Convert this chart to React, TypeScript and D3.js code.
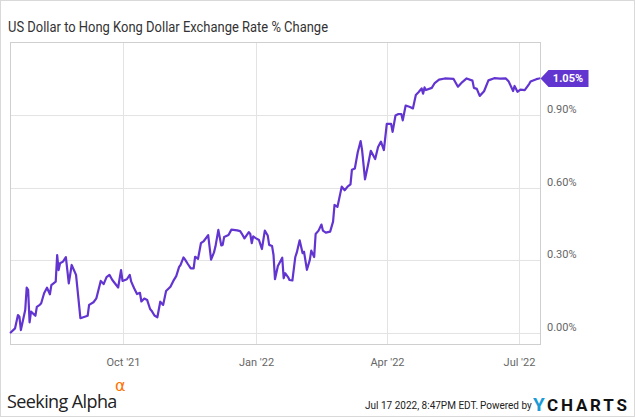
import React from "react";
import * as d3 from "d3";

const title = "US Dollar to Hong Kong Dollar Exchange Rate % Change";

const dates: string[] = [
  "2021-07-16","2021-07-19","2021-07-21","2021-07-22","2021-07-23","2021-07-26","2021-07-27","2021-07-28","2021-07-29","2021-07-30",
  "2021-08-02","2021-08-03","2021-08-05","2021-08-06","2021-08-08","2021-08-10","2021-08-12","2021-08-13","2021-08-16","2021-08-17",
  "2021-08-18","2021-08-19","2021-08-21","2021-08-23","2021-08-25","2021-08-27","2021-08-30","2021-09-02","2021-09-07","2021-09-08",
  "2021-09-11","2021-09-13","2021-09-16","2021-09-18","2021-09-20","2021-09-22","2021-09-24","2021-09-28","2021-09-30","2021-10-01",
  "2021-10-04","2021-10-06","2021-10-07","2021-10-09","2021-10-11","2021-10-13","2021-10-14","2021-10-16","2021-10-18","2021-10-20",
  "2021-10-21","2021-10-23","2021-10-25","2021-10-27","2021-10-29","2021-10-31","2021-11-03","2021-11-05","2021-11-07","2021-11-09",
  "2021-11-10","2021-11-12","2021-11-13","2021-11-15","2021-11-17","2021-11-19","2021-11-20","2021-11-22","2021-11-24","2021-11-26",
  "2021-11-29","2021-12-01","2021-12-03","2021-12-04","2021-12-06","2021-12-08","2021-12-09","2021-12-10","2021-12-13","2021-12-15",
  "2021-12-19","2021-12-21","2021-12-22","2021-12-24","2021-12-27","2021-12-28","2021-12-29","2021-12-30","2022-01-01","2022-01-03",
  "2022-01-05","2022-01-07","2022-01-09","2022-01-10","2022-01-12","2022-01-13","2022-01-14","2022-01-16","2022-01-19","2022-01-20",
  "2022-01-21","2022-01-23","2022-01-24","2022-01-26","2022-01-28","2022-01-29","2022-01-31","2022-02-02","2022-02-03","2022-02-05",
  "2022-02-07","2022-02-08","2022-02-10","2022-02-11","2022-02-13","2022-02-15","2022-02-16","2022-02-18","2022-02-21","2022-02-23",
  "2022-02-24","2022-02-26","2022-02-28","2022-03-01","2022-03-03","2022-03-05","2022-03-07","2022-03-08","2022-03-10","2022-03-12",
  "2022-03-14","2022-03-15","2022-03-17","2022-03-19","2022-03-21","2022-03-24","2022-03-26","2022-03-28","2022-03-30","2022-04-01",
  "2022-04-04","2022-04-05","2022-04-07","2022-04-09","2022-04-11","2022-04-12","2022-04-14","2022-04-17","2022-04-19","2022-04-21",
  "2022-04-23","2022-04-25","2022-04-26","2022-04-27","2022-04-28","2022-05-02","2022-05-04","2022-05-07","2022-05-11","2022-05-17",
  "2022-05-20","2022-05-23","2022-05-26","2022-05-30","2022-05-31","2022-06-02","2022-06-04","2022-06-07","2022-06-10","2022-06-14",
  "2022-06-18","2022-06-22","2022-06-24","2022-06-27","2022-06-28","2022-06-30","2022-07-02","2022-07-05","2022-07-08","2022-07-09",
  "2022-07-13","2022-07-15",
];

const changePct: number[] = [
  0.001,0.018,0.073,0.066,0.011,0.094,0.186,0.177,0.043,0.087,
  0.070,0.107,0.115,0.122,0.163,0.186,0.159,0.197,0.211,0.321,
  0.259,0.287,0.294,0.312,0.204,0.280,0.239,0.060,0.070,0.115,
  0.126,0.142,0.214,0.201,0.230,0.239,0.218,0.187,0.259,0.214,
  0.221,0.239,0.211,0.184,0.160,0.165,0.129,0.141,0.135,0.098,
  0.091,0.071,0.064,0.128,0.115,0.172,0.190,0.214,0.234,0.272,
  0.280,0.311,0.303,0.284,0.266,0.266,0.314,0.305,0.370,0.379,
  0.403,0.302,0.332,0.356,0.425,0.361,0.363,0.396,0.404,0.426,
  0.423,0.420,0.411,0.390,0.416,0.408,0.370,0.398,0.390,0.383,
  0.346,0.422,0.402,0.363,0.358,0.321,0.221,0.276,0.310,0.225,
  0.246,0.230,0.218,0.216,0.313,0.331,0.382,0.329,0.335,0.260,
  0.301,0.339,0.313,0.408,0.422,0.447,0.422,0.414,0.418,0.459,
  0.528,0.520,0.576,0.604,0.589,0.604,0.613,0.674,0.679,0.746,
  0.792,0.755,0.634,0.691,0.752,0.718,0.768,0.790,0.755,0.863,
  0.863,0.830,0.898,0.904,0.904,0.878,0.939,0.933,0.927,0.983,
  0.995,1.010,0.988,1.014,1.003,1.012,1.032,1.046,1.051,1.049,
  1.017,1.036,1.051,1.042,1.012,1.008,0.979,0.998,1.043,1.052,
  1.050,1.051,1.038,0.999,1.020,0.996,1.005,1.003,1.028,1.038,
  1.048,1.051,
];

const yTicks: number[] = [0, 0.3, 0.6, 0.9];
const xTicks: string[] = ["2021-10-01", "2022-01-01", "2022-04-01", "2022-07-01"];
const xDomain: string[] = ["2021-07-16", "2022-07-16"];
const yDomain: number[] = [-0.0467, 1.2017];
const lastLabel = "1.05%";
const timestamp = "Jul 17 2022, 8:47PM EDT.";

const W = 635;
const H = 417;
const PLOT = { left: 10.5, right: 540.5, top: 42.5, bottom: 344.5 };
const PURPLE = "#6234d0";
const FONT = "Roboto, 'Open Sans', sans-serif";

export default function App() {
  const parse = d3.utcParse("%Y-%m-%d");
  const x = d3
    .scaleUtc()
    .domain(xDomain.map((d) => parse(d) as Date))
    .range([10.7, 540.7]);
  const y = d3.scaleLinear().domain(yDomain).range([344, 42]);
  const fmtX = d3.utcFormat("%b '%y");

  const data = dates.map((d, i) => ({ date: parse(d) as Date, v: changePct[i] }));
  const line = d3
    .line<{ date: Date; v: number }>()
    .x((d) => x(d.date))
    .y((d) => y(d.v));

  const last = data[data.length - 1];
  const ly = y(last.v);
  const lx = PLOT.right;

  return (
    <svg
      width={W}
      height={H}
      style={{ position: "absolute", left: 0, top: 0, background: "#fff" }}
      fontFamily={FONT}
    >
      <rect x={0.5} y={0.5} width={W - 1} height={H - 1} fill="#fff" stroke="#d9d9d9" />
      <text x={8} y={31.5} fontSize={14} fill="#333" textLength={320} lengthAdjust="spacingAndGlyphs">
        {title}
      </text>

      {yTicks.map((t) => (
        <g key={t}>
          <line x1={PLOT.left} x2={PLOT.right} y1={Math.round(y(t)) + 0.5} y2={Math.round(y(t)) + 0.5} stroke="#e3e3e3" />
          <text x={547} y={y(t) - 2} fontSize={11} fill="#666">
            {d3.format(".2f")(t) + "%"}
          </text>
        </g>
      ))}
      {xTicks.map((t) => {
        const xx = Math.round(x(parse(t) as Date)) + 0.5;
        return (
          <g key={t}>
            <line x1={xx} x2={xx} y1={PLOT.top} y2={PLOT.bottom} stroke="#e3e3e3" />
            <text x={xx} y={366} fontSize={11} fill="#666" textAnchor="middle">
              {fmtX(parse(t) as Date)}
            </text>
          </g>
        );
      })}

      <rect
        x={PLOT.left}
        y={PLOT.top}
        width={PLOT.right - PLOT.left}
        height={PLOT.bottom - PLOT.top}
        fill="none"
        stroke="#cfcfcf"
      />

      <path d={line(data) || ""} fill="none" stroke={PURPLE} strokeWidth={2.2} strokeLinejoin="round" strokeLinecap="round" />

      <path
        d={`M${lx},${ly} L${lx + 8},${ly - 8.5} L${lx + 48},${ly - 8.5} L${lx + 48},${ly + 8.5} L${lx + 8},${ly + 8.5} Z`}
        fill={PURPLE}
      />
      <text x={lx + 27.5} y={ly + 4} fontSize={11} fontWeight="bold" fill="#fff" textAnchor="middle">
        {lastLabel}
      </text>

      <text x={7} y={408} fontSize={18} fill="#222" fontFamily="'Open Sans', sans-serif" letterSpacing={-0.6}>
        Seeking Alpha
      </text>
      <text x={115} y={391} fontSize={16} fill="#ff7200" fontFamily="'DejaVu Sans', sans-serif">
        α
      </text>

      <text x={365} y={409} fontSize={10} fill="#222">
        {timestamp}
      </text>
      <text x={480} y={409} fontSize={10} fill="#222">
        Powered by
      </text>
      <text x={533} y={411} fontSize={19} fontWeight="bold" fill="#1a9ad6">
        Y
      </text>
      <text x={547} y={411} fontSize={17} fontWeight="bold" fill="#111" textLength={80} lengthAdjust="spacing">
        CHARTS
      </text>
    </svg>
  );
}
